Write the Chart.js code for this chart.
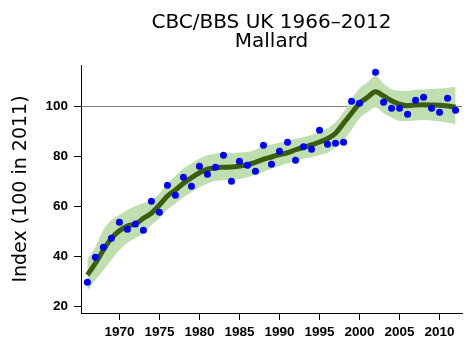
<!DOCTYPE html>
<html>
<head>
<meta charset="utf-8">
<script src="https://cdn.jsdelivr.net/npm/chart.js@4"></script>
<style>
  html, body { margin: 0; padding: 0; background: #fff; }
  #wrap { width: 470px; height: 353px; }
</style>
</head>
<body>
<div id="wrap"><canvas id="chart" width="470" height="353"></canvas></div>
<script>
// years 1966-2012 (2001 has no survey value)
const years = [];
for (let y = 1966; y <= 2012; y++) years.push(y);

// annual index values (blue dots)
const indexValues = [29.5, 39.5, 43.5, 47.1, 53.5, 50.7, 52.8, 50.3, 61.9, 57.5,
    68.3, 64.3, 71.5, 67.9, 75.9, 72.7, 75.5, 80.3, 69.9, 77.9,
    76.3, 73.9, 84.3, 76.7, 81.9, 85.5, 78.3, 83.7, 82.7, 90.3,
    84.7, 85.1, 85.5, 101.9, 101.1, null, 113.5, 101.5, 99.1, 99.1,
    96.7, 102.3, 103.5, 99.1, 97.5, 103.1, 98.3];

// smoothed trend
const smoothed = [32.4, 37.1, 42.4, 47.1, 50.1, 52.0, 52.8, 55.1, 57.1, 60.4,
    64.0, 66.4, 69.1, 71.3, 73.3, 74.7, 75.3, 75.5, 75.6, 76.0,
    76.5, 77.5, 78.7, 79.6, 80.6, 81.3, 82.5, 83.5, 84.4, 85.6,
    86.9, 89.1, 93.1, 97.1, 101.1, 103.5, 105.7, 104.0, 102.1, 100.7,
    100.1, 100.4, 100.5, 100.4, 100.3, 100.0, 99.6];

// confidence band
const upper = [38.7, 43.7, 50.4, 54.4, 56.4, 58.4, 60.0, 61.1, 62.4, 65.0,
    69.0, 72.0, 75.0, 77.0, 79.0, 80.3, 81.0, 81.2, 81.2, 81.4,
    81.6, 82.5, 83.8, 84.6, 85.3, 86.0, 86.8, 87.6, 88.4, 89.5,
    91.1, 93.5, 97.5, 102.7, 107.0, 109.5, 112.0, 109.0, 106.7, 106.1,
    106.0, 106.5, 106.7, 106.8, 107.0, 107.3, 107.7];
const lower = [26.1, 30.4, 34.4, 38.4, 42.4, 45.3, 47.1, 49.1, 52.4, 55.1,
    58.5, 61.0, 63.5, 65.5, 67.5, 69.0, 70.0, 70.3, 70.5, 70.8,
    71.5, 72.5, 73.7, 74.9, 76.0, 77.1, 78.1, 78.9, 79.5, 80.4,
    81.3, 83.5, 86.4, 90.4, 95.1, 97.5, 99.5, 97.1, 95.5, 94.0,
    94.0, 94.2, 94.4, 94.2, 93.8, 93.3, 92.7];

const xTicks = [1970, 1975, 1980, 1985, 1990, 1995, 2000, 2005, 2010];
const yTicks = [20, 40, 60, 80, 100];

const titleLines = ['CBC/BBS UK 1966\u20132012', 'Mallard'];
const yLabel = 'Index (100 in 2011)';

const pts = arr => years.map((yr, i) => ({ x: yr, y: arr[i] }));

// title + y label drawn over the plot area
const textPlugin = {
    id: 'texts',
    afterDraw(chart) {
        const ctx = chart.ctx;
        const area = chart.chartArea;
        const cx = (area.left + area.right) / 2;
        ctx.save();
        ctx.fillStyle = '#000';
        ctx.font = '20px "DejaVu Sans"';
        ctx.textAlign = 'center';
        ctx.textBaseline = 'alphabetic';
        ctx.fillText(titleLines[0], cx, 28);
        ctx.fillText(titleLines[1], cx, 47);
        ctx.translate(21, (area.top + area.bottom) / 2);
        ctx.rotate(-Math.PI / 2);
        ctx.font = '19px "DejaVu Sans"';
        ctx.textBaseline = 'middle';
        ctx.fillText(yLabel, 0, 0);
        ctx.restore();
    }
};

const tickFont = { family: '"Liberation Sans"', size: 13.5, weight: 'bold' };

new Chart(document.getElementById('chart'), {
    type: 'line',
    data: {
        datasets: [
            {
                label: 'index',
                data: pts(indexValues),
                showLine: false,
                pointRadius: 3.5,
                pointBackgroundColor: '#0000ff',
                pointBorderWidth: 0,
                pointBorderColor: '#0000ff'
            },
            {
                label: 'smoothed',
                data: pts(smoothed),
                borderColor: '#3a5e0e',
                borderWidth: 5,
                pointRadius: 0,
                cubicInterpolationMode: 'monotone',
                fill: false
            },
            {
                label: 'upper',
                data: pts(upper),
                borderWidth: 0,
                borderColor: 'rgba(0,0,0,0)',
                pointRadius: 0,
                cubicInterpolationMode: 'monotone',
                backgroundColor: '#bfdfb0',
                fill: '+1'
            },
            {
                label: 'lower',
                data: pts(lower),
                borderWidth: 0,
                borderColor: 'rgba(0,0,0,0)',
                pointRadius: 0,
                cubicInterpolationMode: 'monotone',
                fill: false
            }
        ]
    },
    options: {
        responsive: false,
        animation: false,
        layout: { padding: { top: 65, right: 8, left: 0, bottom: 0 } },
        plugins: {
            legend: { display: false },
            title: { display: false },
            tooltip: { enabled: false }
        },
        scales: {
            x: {
                type: 'linear',
                min: 1965.2,
                max: 2012.8,
                afterFit: s => { s.height = 40; },
                afterBuildTicks: s => { s.ticks = xTicks.map(v => ({ value: v })); },
                ticks: {
                    padding: 4,
                    color: '#000',
                    font: tickFont,
                    callback: v => String(v),
                    maxRotation: 0,
                    autoSkip: false
                },
                grid: { drawOnChartArea: false, tickLength: 7, tickColor: '#000', color: '#000' },
                border: { display: true, color: '#000', width: 1 }
            },
            y: {
                min: 17.2,
                max: 116.4,
                afterFit: s => { s.width = 81; },
                afterBuildTicks: s => { s.ticks = yTicks.map(v => ({ value: v })); },
                ticks: {
                    padding: 6,
                    color: '#000',
                    font: tickFont,
                    callback: v => String(v)
                },
                grid: {
                    tickLength: 7,
                    tickColor: '#000',
                    color: c => (c.tick && c.tick.value === 100) ? '#808080' : 'rgba(0,0,0,0)',
                    lineWidth: 1
                },
                border: { display: true, color: '#000', width: 1 }
            }
        }
    },
    plugins: [textPlugin]
});
</script>
</body>
</html>
